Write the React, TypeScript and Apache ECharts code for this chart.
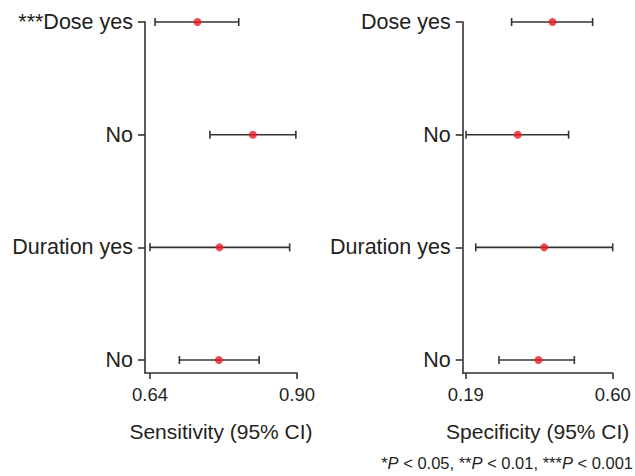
import React, { useEffect, useRef } from "react";
import * as echarts from "echarts";

// Categories, top to bottom
const sensCategories = ["***Dose yes", "No", "Duration yes", "No"];
const specCategories = ["Dose yes", "No", "Duration yes", "No"];

// Sensitivity (95% CI)
const sensEst = [0.724, 0.822, 0.763, 0.762];
const sensLow = [0.649, 0.746, 0.64, 0.692];
const sensHigh = [0.797, 0.898, 0.887, 0.833];

// Specificity (95% CI)
const specEst = [0.432, 0.335, 0.409, 0.393];
const specLow = [0.318, 0.191, 0.218, 0.283];
const specHigh = [0.544, 0.477, 0.6, 0.493];

// Tick labels
const sensTicks = [0.64, 0.9];
const specTicks = [0.19, 0.6];

const FONT = "'Liberation Sans', Arial, Helvetica, sans-serif";
const TEXT = "#231f20";
const AXIS = "#333333";

export default function App() {
  const ref = useRef<HTMLDivElement>(null);

  useEffect(() => {
    if (!ref.current) return;
    const chart = echarts.init(ref.current, undefined, { renderer: "svg" });
    const n = sensCategories.length;
    const yOf = (i: number) => n - 1 - i;

    const errSeries = (low: number[], high: number[], idx: number) => ({
      type: "custom",
      xAxisIndex: idx,
      yAxisIndex: idx,
      encode: { x: [0, 1], y: 2 },
      data: low.map((l, i) => [l, high[i], yOf(i)]),
      renderItem: (_p: any, api: any) => {
        const y = api.value(2);
        const p1 = api.coord([api.value(0), y]);
        const p2 = api.coord([api.value(1), y]);
        const h = 4;
        const style = { stroke: "#333", lineWidth: 1.6 };
        return {
          type: "group",
          children: [
            { type: "line", shape: { x1: p1[0], y1: p1[1], x2: p2[0], y2: p2[1] }, style },
            { type: "line", shape: { x1: p1[0], y1: p1[1] - h, x2: p1[0], y2: p1[1] + h }, style },
            { type: "line", shape: { x1: p2[0], y1: p2[1] - h, x2: p2[0], y2: p2[1] + h }, style },
          ],
        };
      },
      z: 2,
    });

    const pointSeries = (est: number[], idx: number) => ({
      type: "scatter",
      xAxisIndex: idx,
      yAxisIndex: idx,
      symbol: "circle",
      symbolSize: 8,
      itemStyle: { color: "#ee1c25" },
      data: est.map((v, i) => [v, yOf(i)]),
      z: 3,
    });

    const xAxisCfg = (idx: number, min: number, max: number, ticks: number[], name: string) => ({
      type: "value",
      gridIndex: idx,
      min,
      max,
      name,
      nameLocation: "middle",
      nameGap: 48,
      nameTextStyle: { color: TEXT, fontSize: 21, fontFamily: FONT },
      splitLine: { show: false },
      axisLine: { show: true, onZero: false, lineStyle: { color: AXIS, width: 1.6 } },
      axisTick: { show: true, length: 6, customValues: ticks, lineStyle: { color: AXIS, width: 1.6 } },
      axisLabel: {
        customValues: ticks,
        margin: 12,
        color: TEXT,
        fontSize: 18.5,
        fontFamily: FONT,
        formatter: (v: number) => v.toFixed(2),
      },
    });

    const yAxisCfg = (idx: number, cats: string[]) => ({
      type: "value",
      gridIndex: idx,
      min: -0.115,
      max: n - 1,
      splitLine: { show: false },
      axisLine: { show: true, onZero: false, lineStyle: { color: AXIS, width: 1.6 } },
      axisTick: {
        show: true,
        length: 7,
        customValues: cats.map((_, i) => i),
        lineStyle: { color: AXIS, width: 1.6 },
      },
      axisLabel: {
        customValues: cats.map((_, i) => i),
        margin: 12,
        color: TEXT,
        fontSize: 21.5,
        fontFamily: FONT,
        formatter: (v: number) => cats[n - 1 - Math.round(v)] ?? "",
      },
    });

    chart.setOption({
      animation: false,
      grid: [
        { left: 145, top: 22, width: 152, height: 351 },
        { left: 462.7, top: 22, width: 150, height: 351 },
      ],
      xAxis: [
        xAxisCfg(0, 0.6312, 0.9, sensTicks, "Sensitivity (95% CI)"),
        xAxisCfg(1, 0.1816, 0.6, specTicks, "Specificity (95% CI)"),
      ],
      yAxis: [yAxisCfg(0, sensCategories), yAxisCfg(1, specCategories)],
      series: [
        errSeries(sensLow, sensHigh, 0),
        pointSeries(sensEst, 0),
        errSeries(specLow, specHigh, 1),
        pointSeries(specEst, 1),
      ],
      graphic: [
        {
          type: "text",
          right: 2,
          top: 454,
          style: {
            text: "{n|*}{i|P}{n| < 0.05, **}{i|P}{n| < 0.01, ***}{i|P}{n| < 0.001}",
            rich: {
              n: { fontSize: 16.5, fontFamily: FONT, fill: TEXT },
              i: { fontSize: 16.5, fontFamily: FONT, fill: TEXT, fontStyle: "italic" },
            },
          },
        },
      ],
    });

    return () => chart.dispose();
  }, []);

  return (
    <div
      ref={ref}
      style={{ position: "fixed", left: 0, top: 0, width: 635, height: 476, background: "#fff" }}
    />
  );
}
